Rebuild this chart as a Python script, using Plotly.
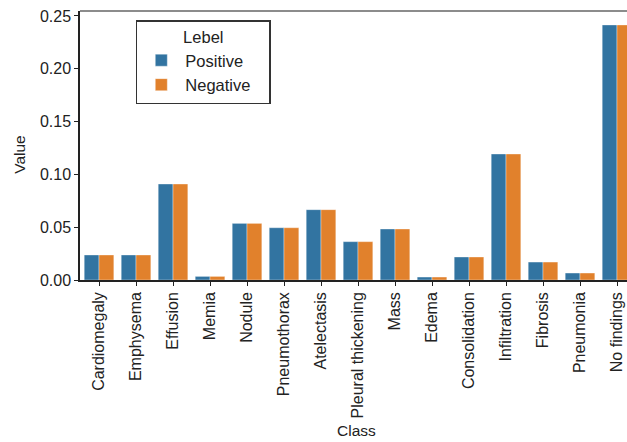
import plotly.graph_objects as go

# Class frequencies per label
classes = ["Cardiomegaly", "Emphysema", "Effusion", "Memia", "Nodule", "Pneumothorax",
           "Atelectasis", "Pleural thickening", "Mass", "Edema", "Consolidation",
           "Infiltration", "Fibrosis", "Pneumonia", "No findings"]
positive = [0.0237, 0.0237, 0.0909, 0.0034, 0.0536, 0.0495, 0.0666, 0.0363,
            0.0483, 0.0028, 0.0218, 0.1193, 0.0170, 0.0066, 0.2415]
negative = [0.0237, 0.0237, 0.0909, 0.0034, 0.0536, 0.0495, 0.0666, 0.0363,
            0.0483, 0.0028, 0.0218, 0.1193, 0.0170, 0.0066, 0.2415]
y_ticks = [0.00, 0.05, 0.10, 0.15, 0.20, 0.25]

FONT = "Liberation Sans, Arial, sans-serif"
W, H = 627, 442
L, R, T, B = 80, 0, 11, 162
PAD = "\u00a0" * 3  # widens the legend box on the right

fig = go.Figure()
fig.add_trace(go.Bar(x=classes, y=positive, name="Positive" + PAD,
                     marker=dict(color="#3274a1", line=dict(color="rgba(255,255,255,0.6)", width=0.6))))
fig.add_trace(go.Bar(x=classes, y=negative, name="Negative" + PAD,
                     marker=dict(color="#e1812c", line=dict(color="rgba(255,255,255,0.6)", width=0.6))))

fig.update_layout(
    width=W, height=H,
    margin=dict(l=L, r=R, t=T, b=B, pad=0),
    paper_bgcolor="white", plot_bgcolor="white",
    font=dict(family=FONT, size=16, color="#222"),
    barmode="group", bargap=0.2, bargroupgap=0,
    showlegend=True,
    legend=dict(
        x=0.102, y=0.9665, xanchor="left", yanchor="top",
        bgcolor="white", bordercolor="#333", borderwidth=1.5,
        title=dict(text="Lebel", side="top center", font=dict(size=16.5)),
        font=dict(size=16.5), tracegroupgap=0, itemwidth=38,
    ),
)

fig.update_xaxes(
    range=[-0.514, 14.27], tickangle=-90, tickfont=dict(size=16),
    showline=True, linecolor="#222", linewidth=1.5,
    ticks="outside", ticklen=4, tickwidth=1.2, tickcolor="#222",
    showgrid=False, zeroline=False,
)
fig.update_yaxes(
    range=[0, 0.2547], tickvals=y_ticks, ticktext=[f"{v:.2f}" for v in y_ticks],
    tickfont=dict(size=16),
    showline=True, linecolor="#222", linewidth=1.5,
    ticks="outside", ticklen=4, tickwidth=1.2, tickcolor="#222",
    showgrid=False, zeroline=False,
)

# top frame line
fig.add_shape(type="line", xref="paper", yref="paper", x0=0, x1=1, y0=1, y1=1,
              line=dict(color="#666", width=1.5))

# axis titles
fig.add_annotation(text="Value", xref="paper", yref="paper",
                   x=(18.8 - L) / (W - L - R), y=(H - B - 154) / (H - T - B),
                   showarrow=False, textangle=-90, font=dict(size=15.5),
                   xanchor="center", yanchor="middle")
fig.add_annotation(text="Class", xref="paper", yref="paper",
                   x=(356 - L) / (W - L - R), y=-(430 - (H - B)) / (H - T - B),
                   showarrow=False, font=dict(size=15.5),
                   xanchor="center", yanchor="middle")

fig.write_html("out.html")
